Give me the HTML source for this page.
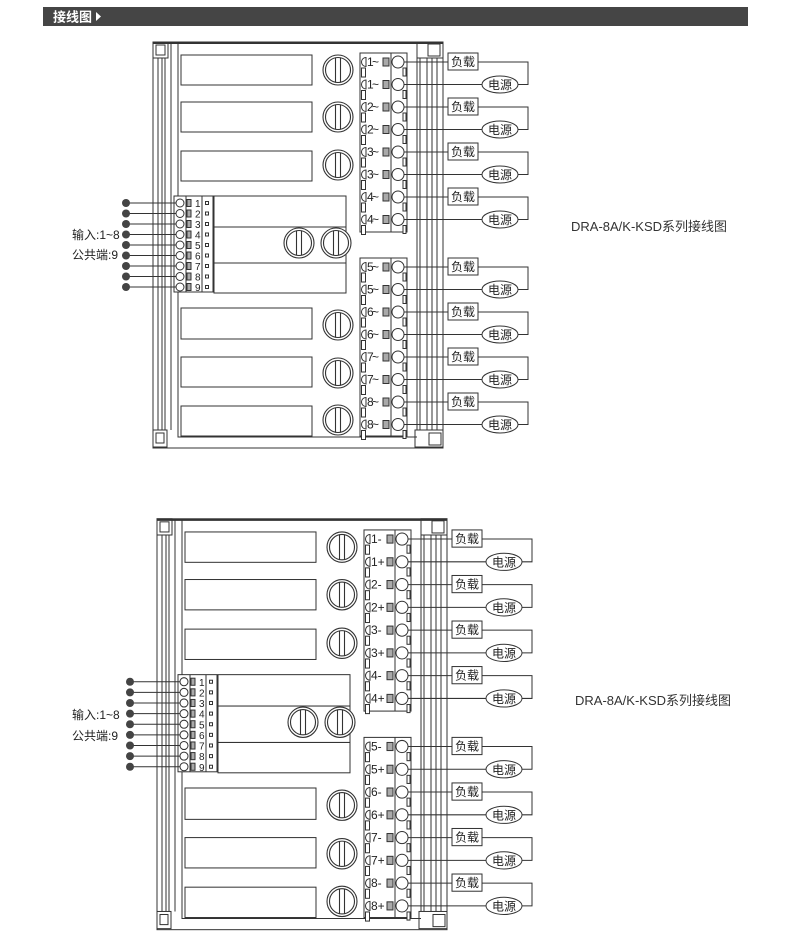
<!DOCTYPE html>
<html><head><meta charset="utf-8"><style>
html,body{margin:0;padding:0;background:#fff;}
svg{display:block;font-family:"Liberation Sans","Noto Sans CJK SC",sans-serif;}
</style></head><body>
<svg width="790" height="945" viewBox="0 0 790 945" xmlns="http://www.w3.org/2000/svg">
<defs>
<g id="kn" fill="#fff" stroke="#333" stroke-width="1.1"><circle r="15"/><circle r="12.5"/><line x1="-2.5" y1="-12.5" x2="-2.5" y2="12.5"/><line x1="2.5" y1="-12.5" x2="2.5" y2="12.5"/></g>
<g id="tr" stroke="#333" stroke-width="1" fill="#fff">
<path d="M366,-4.5 A4.5,4.5 0 0 0 366,4.5 Z"/>
<rect x="361.5" y="6" width="4" height="9"/>
<rect x="383" y="-4" width="6" height="8" fill="#aaa"/>
<circle cx="398" cy="0" r="6"/>
<rect x="403" y="6" width="3" height="8"/>
</g>
<g id="lp" stroke="#333" stroke-width="1" fill="none">
<line x1="404" y1="0" x2="448" y2="0"/>
<rect x="448" y="-9" width="30" height="17" fill="#fff"/>
<polyline points="478,0 528,0 528,22.5 518,22.5"/>
<ellipse cx="500" cy="22.5" rx="18" ry="8.5" fill="#fff"/>
<line x1="482" y1="22.5" x2="404" y2="22.5"/>
</g>
<g id="ir" stroke="#333" stroke-width="1">
<line x1="126" y1="0" x2="176" y2="0"/>
<circle cx="126" cy="0" r="4" fill="#444" stroke="none"/>
<circle cx="180" cy="0" r="4" fill="#fff"/>
<rect x="187" y="-3.5" width="4" height="7" fill="#aaa"/>
<rect x="205.5" y="-1.5" width="3" height="3" fill="#fff"/>
</g>
<g id="box">
<g fill="none" stroke="#333" stroke-width="1">
<rect x="153" y="42" width="290" height="406"/>
<line x1="158" y1="58" x2="158" y2="430"/><line x1="162" y1="58" x2="162" y2="430"/><line x1="165" y1="58" x2="165" y2="430"/><line x1="171" y1="43" x2="171" y2="430"/>
<polyline points="178,43 178,437 417,437"/>
<line x1="417" y1="58" x2="417" y2="430"/><line x1="420" y1="58" x2="420" y2="430"/><line x1="427" y1="58" x2="427" y2="430"/><line x1="432" y1="58" x2="432" y2="430"/><line x1="437" y1="58" x2="437" y2="430"/>
<rect x="153" y="42" width="15" height="16"/><rect x="156" y="45" width="9" height="10"/>
<rect x="417" y="42" width="26" height="16"/><rect x="428" y="44" width="12" height="12"/>
<rect x="153" y="430" width="14" height="17"/><rect x="156" y="433" width="8" height="10"/>
<rect x="415" y="430" width="28" height="17"/><rect x="429" y="433" width="12" height="12"/>
<rect x="181" y="55" width="131" height="30"/><rect x="181" y="102" width="131" height="30"/><rect x="181" y="151" width="131" height="30"/>
<rect x="181" y="308" width="131" height="31"/><rect x="181" y="357" width="131" height="30"/><rect x="181" y="406" width="131" height="30"/>
<rect x="214" y="196" width="132" height="31"/><rect x="214" y="227" width="132" height="36"/><rect x="214" y="263" width="132" height="30"/>
<rect x="174" y="196" width="39" height="96" fill="#fff"/><line x1="186" y1="196" x2="186" y2="292"/><line x1="202" y1="196" x2="202" y2="292"/>
<rect x="360" y="53" width="47" height="179" fill="#fff"/><line x1="391" y1="53" x2="391" y2="232"/>
<rect x="360" y="258" width="47" height="178" fill="#fff"/><line x1="391" y1="258" x2="391" y2="436"/>
</g>
<line x1="153" y1="43" x2="443" y2="43" stroke="#333" stroke-width="2"/>
<use href="#kn" x="338" y="70"/><use href="#kn" x="338" y="117"/><use href="#kn" x="338" y="165"/>
<use href="#kn" x="338" y="325"/><use href="#kn" x="338" y="373"/><use href="#kn" x="338" y="420"/>
<use href="#kn" x="299" y="243"/><use href="#kn" x="336" y="243"/>
<use href="#tr" y="62"/><use href="#tr" y="84.5"/><use href="#tr" y="107"/><use href="#tr" y="129.5"/><use href="#tr" y="152"/><use href="#tr" y="174.5"/><use href="#tr" y="197"/><use href="#tr" y="219.5"/>
<use href="#tr" y="267"/><use href="#tr" y="289.5"/><use href="#tr" y="312"/><use href="#tr" y="334.5"/><use href="#tr" y="357"/><use href="#tr" y="379.5"/><use href="#tr" y="402"/><use href="#tr" y="424.5"/>
<use href="#lp" y="62"/><use href="#lp" y="107"/><use href="#lp" y="152"/><use href="#lp" y="197"/>
<use href="#lp" y="267"/><use href="#lp" y="312"/><use href="#lp" y="357"/><use href="#lp" y="402"/>
<use href="#ir" y="203"/><use href="#ir" y="213.5"/><use href="#ir" y="224"/><use href="#ir" y="234.5"/><use href="#ir" y="245"/><use href="#ir" y="255.5"/><use href="#ir" y="266"/><use href="#ir" y="276.5"/><use href="#ir" y="287"/>
</g>
</defs>

<rect x="43" y="7" width="705" height="19" fill="#454545"/>
<text x="53" y="21.5" fill="#fff" font-size="13" font-weight="bold">接线图</text>
<path d="M96,12 L101,16.5 L96,21 Z" fill="#fff"/>

<!-- Diagram 1 -->
<use href="#box"/>
<g font-size="10" fill="#222">
<text x="195" y="207">1</text><text x="195" y="217.5">2</text><text x="195" y="228">3</text><text x="195" y="238.5">4</text><text x="195" y="249">5</text><text x="195" y="259.5">6</text><text x="195" y="270">7</text><text x="195" y="280.5">8</text><text x="195" y="291">9</text>
</g>
<g font-size="12" fill="#222" lengthAdjust="spacingAndGlyphs">
<text x="367" y="66" textLength="12">1~</text><text x="367" y="88.5" textLength="12">1~</text><text x="367" y="111" textLength="12">2~</text><text x="367" y="133.5" textLength="12">2~</text><text x="367" y="156" textLength="12">3~</text><text x="367" y="178.5" textLength="12">3~</text><text x="367" y="201" textLength="12">4~</text><text x="367" y="223.5" textLength="12">4~</text>
<text x="367" y="271" textLength="12">5~</text><text x="367" y="293.5" textLength="12">5~</text><text x="367" y="316" textLength="12">6~</text><text x="367" y="338.5" textLength="12">6~</text><text x="367" y="361" textLength="12">7~</text><text x="367" y="383.5" textLength="12">7~</text><text x="367" y="406" textLength="12">8~</text><text x="367" y="428.5" textLength="12">8~</text>
</g>
<g font-size="12" fill="#222">
<text x="451" y="66">负载</text><text x="488" y="89">电源</text>
<text x="451" y="111">负载</text><text x="488" y="134">电源</text>
<text x="451" y="156">负载</text><text x="488" y="179">电源</text>
<text x="451" y="201">负载</text><text x="488" y="224">电源</text>
<text x="451" y="271">负载</text><text x="488" y="294">电源</text>
<text x="451" y="316">负载</text><text x="488" y="339">电源</text>
<text x="451" y="361">负载</text><text x="488" y="384">电源</text>
<text x="451" y="406">负载</text><text x="488" y="429">电源</text>
</g>
<text x="72" y="239" font-size="12" fill="#222">输入:1~8</text>
<text x="72" y="259" font-size="12" fill="#222">公共端:9</text>
<text x="571" y="231" font-size="13" fill="#333">DRA-8A/K-KSD系列接线图</text>

<!-- Diagram 2 -->
<g transform="translate(4,476.3) scale(1,1.012)">
<use href="#box"/>
<g font-size="10" fill="#222">
<text x="195" y="207">1</text><text x="195" y="217.5">2</text><text x="195" y="228">3</text><text x="195" y="238.5">4</text><text x="195" y="249">5</text><text x="195" y="259.5">6</text><text x="195" y="270">7</text><text x="195" y="280.5">8</text><text x="195" y="291">9</text>
</g>
<g font-size="12" fill="#222">
<text x="367" y="66">1-</text><text x="367" y="88.5">1+</text><text x="367" y="111">2-</text><text x="367" y="133.5">2+</text><text x="367" y="156">3-</text><text x="367" y="178.5">3+</text><text x="367" y="201">4-</text><text x="367" y="223.5">4+</text>
<text x="367" y="271">5-</text><text x="367" y="293.5">5+</text><text x="367" y="316">6-</text><text x="367" y="338.5">6+</text><text x="367" y="361">7-</text><text x="367" y="383.5">7+</text><text x="367" y="406">8-</text><text x="367" y="428.5">8+</text>
</g>
<g font-size="12" fill="#222">
<text x="451" y="66">负载</text><text x="488" y="89">电源</text>
<text x="451" y="111">负载</text><text x="488" y="134">电源</text>
<text x="451" y="156">负载</text><text x="488" y="179">电源</text>
<text x="451" y="201">负载</text><text x="488" y="224">电源</text>
<text x="451" y="271">负载</text><text x="488" y="294">电源</text>
<text x="451" y="316">负载</text><text x="488" y="339">电源</text>
<text x="451" y="361">负载</text><text x="488" y="384">电源</text>
<text x="451" y="406">负载</text><text x="488" y="429">电源</text>
</g>
</g>
<text x="72" y="719" font-size="12" fill="#222">输入:1~8</text>
<text x="72" y="740" font-size="12" fill="#222">公共端:9</text>
<text x="575" y="705" font-size="13" fill="#333">DRA-8A/K-KSD系列接线图</text>
</svg>
</body></html>
